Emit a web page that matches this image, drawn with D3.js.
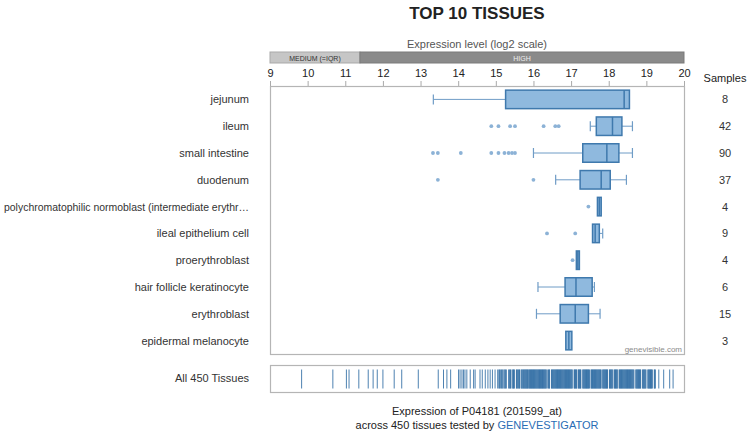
<!DOCTYPE html>
<html>
<head>
<meta charset="utf-8">
<script src="https://cdn.jsdelivr.net/npm/d3@7"></script>
<style>
  html, body { margin: 0; padding: 0; background: #fff; }
  svg { display: block; font-family: Helvetica, Arial, "Liberation Sans", sans-serif; }
</style>
</head>
<body>
<svg id="chart" width="749" height="435"></svg>
<script>
// ---------------- DATA ----------------
const tissues = ["jejunum", "ileum", "small intestine", "duodenum",
  "polychromatophilic normoblast (intermediate erythr\u2026",
  "ileal epithelium cell", "proerythroblast", "hair follicle keratinocyte",
  "erythroblast", "epidermal melanocyte"];
const samples = [8, 42, 90, 37, 4, 9, 4, 6, 15, 3];
const whiskerLow  = [13.34, 17.51, 16.00, 16.59, 17.70, 17.57, 17.14, 16.12, 16.08, 16.86];
const q1          = [15.26, 17.67, 17.31, 17.24, 17.70, 17.57, 17.14, 16.84, 16.71, 16.86];
const median      = [18.41, 18.10, 17.95, 17.80, 17.75, 17.64, 17.18, 17.13, 17.11, 16.94];
const q3          = [18.55, 18.35, 18.27, 18.04, 17.80, 17.75, 17.22, 17.56, 17.46, 17.02];
const whiskerHigh = [18.55, 18.63, 18.63, 18.47, 17.80, 17.84, 17.22, 17.62, 17.77, 17.02];
const outliers = [
  [],
  [14.88, 15.07, 15.38, 15.51, 16.27, 16.58, 16.67],
  [13.33, 13.46, 14.07, 14.88, 15.07, 15.23, 15.34, 15.43, 15.51],
  [13.46, 16.00],
  [17.46],
  [16.36, 17.11],
  [17.04],
  [],
  [],
  []
];
const tickValues = [9, 10, 11, 12, 13, 14, 15, 16, 17, 18, 19, 20];
const levelBands = [
  { name: "MEDIUM (=IQR)", from: 9, to: 11.39 },
  { name: "HIGH", from: 11.39, to: 20 }
];
const allTissues = [
  9.84, 10.67, 11.03, 11.10, 11.36, 11.61, 11.74, 11.85, 12.00, 12.30, 12.50, 12.94,
  13.47, 13.61, 13.70, 13.80, 14.01, 14.05, 14.10, 14.14, 14.18, 14.23, 14.32, 14.41,
  14.45, 14.58, 14.64, 14.72, 14.79, 14.85, 14.91, 14.98, 15.05,
  15.08, 15.10, 15.12, 15.15, 15.17, 15.19, 15.22, 15.24, 15.26, 15.28,
  15.34, 15.36, 15.38, 15.39,
  15.43, 15.45, 15.47, 15.48, 15.50,
  15.55, 15.56, 15.58, 15.60, 15.62, 15.63,
  15.67, 15.69, 15.70, 15.72, 15.74, 15.75, 15.77, 15.78,
  15.80, 15.81, 15.83, 15.84, 15.86, 15.88, 15.89, 15.91, 15.92, 15.94, 15.95, 15.97, 15.98,
  16.00, 16.01, 16.03, 16.04, 16.06, 16.07, 16.09, 16.10, 16.12, 16.13, 16.15, 16.16, 16.18, 16.19,
  16.21, 16.22, 16.24, 16.25, 16.27, 16.28, 16.30, 16.31, 16.33, 16.34,
  16.38, 16.40, 16.42, 16.43,
  16.48, 16.49, 16.51, 16.52, 16.54, 16.55, 16.57, 16.58, 16.60, 16.61, 16.63, 16.64, 16.66, 16.67, 16.69,
  16.70, 16.72, 16.73, 16.75, 16.76, 16.78, 16.79, 16.81, 16.82, 16.84, 16.85, 16.87, 16.88, 16.90,
  16.91, 16.93, 16.94, 16.96, 16.97, 16.99,
  17.00, 17.02, 17.03,
  17.08, 17.09, 17.11, 17.12, 17.14, 17.15,
  17.19, 17.20, 17.22, 17.23, 17.25, 17.26,
  17.31, 17.32, 17.34, 17.35, 17.37, 17.38, 17.40, 17.41, 17.43, 17.44, 17.46, 17.47, 17.49,
  17.53, 17.54, 17.56, 17.57, 17.59, 17.60, 17.62, 17.63, 17.65, 17.66, 17.68, 17.69, 17.71, 17.72,
  17.74, 17.75, 17.77, 17.78, 17.80,
  17.84, 17.85, 17.87, 17.88, 17.90, 17.91, 17.93, 17.94, 17.96, 17.97,
  18.02, 18.03, 18.05, 18.06, 18.08, 18.09, 18.11,
  18.15, 18.16, 18.18, 18.19, 18.21, 18.22, 18.24,
  18.28, 18.29, 18.31, 18.32, 18.34, 18.35, 18.37, 18.38, 18.40, 18.41, 18.43, 18.44, 18.46, 18.47,
  18.49, 18.50, 18.52, 18.53, 18.55, 18.56, 18.58, 18.59, 18.61, 18.62, 18.64, 18.65, 18.67,
  18.72, 18.73, 18.75, 18.76, 18.78, 18.79, 18.81, 18.82, 18.84, 18.85,
  18.90, 18.91, 18.93, 18.94, 18.96, 18.97, 18.99,
  19.04, 19.05, 19.07, 19.08, 19.10, 19.11, 19.13, 19.14, 19.16,
  19.21, 19.22, 19.24,
  19.33, 19.46, 19.62, 19.71
];

// ---------------- LAYOUT ----------------
const svg = d3.select("#chart");
const plotLeft = 270, plotRight = 684, plotTop = 86, plotBottom = 354;
const x = d3.scaleLinear().domain([9, 20]).range([plotLeft, plotRight]);
const y = d3.scaleBand().domain(tissues).range([plotTop, plotBottom]);
const rows = tissues.map((t, i) => ({
  t, i, n: samples[i], wl: whiskerLow[i], q1: q1[i], med: median[i],
  q3: q3[i], wh: whiskerHigh[i], out: outliers[i]
}));
const centerX = (plotLeft + plotRight) / 2;
const boxFill = "#8fb9de", boxStroke = "#3f79ad", whiskColor = "#6f9cc6", dotColor = "#8cb2d6";

// Title
svg.append("text").attr("x", centerX).attr("y", 19).attr("text-anchor", "middle")
  .attr("font-size", 17).attr("font-weight", "bold").attr("fill", "#222").text("TOP 10 TISSUES");

svg.append("text").attr("x", centerX).attr("y", 47.5).attr("text-anchor", "middle")
  .attr("font-size", 11).attr("fill", "#555").text("Expression level (log2 scale)");

// level bands
const lb = svg.append("g");
lb.selectAll("rect").data(levelBands).join("rect")
  .attr("x", d => x(d.from)).attr("y", 52)
  .attr("width", d => x(d.to) - x(d.from)).attr("height", 11)
  .attr("fill", (d, i) => i === 0 ? "#c6c6c6" : "#8a8a8a")
  .attr("stroke", (d, i) => i === 0 ? "#a9a9a9" : "#7a7a7a").attr("stroke-width", 1);
lb.selectAll("text").data(levelBands).join("text")
  .attr("x", d => (x(d.from) + x(d.to)) / 2).attr("y", 60.5)
  .attr("text-anchor", "middle").attr("font-size", 7)
  .attr("fill", (d, i) => i === 0 ? "#333" : "#eee").text(d => d.name);

// Axis
const axis = svg.append("g").attr("transform", `translate(0,${plotTop})`)
  .call(d3.axisTop(x).tickValues(tickValues).tickSize(5).tickPadding(4).tickFormat(d3.format("d")));
axis.select(".domain").remove();
axis.selectAll(".tick line").attr("stroke", "#aaa");
axis.selectAll(".tick text").attr("font-size", 11).attr("fill", "#222")
  .attr("font-family", "Helvetica, Arial, 'Liberation Sans', sans-serif");

// Plot frame
svg.append("rect").attr("x", plotLeft + 0.5).attr("y", plotTop + 0.5)
  .attr("width", plotRight - plotLeft).attr("height", plotBottom - plotTop)
  .attr("fill", "none").attr("stroke", "#b5b5b5").attr("stroke-width", 1.2);

svg.append("text").attr("x", plotRight - 2).attr("y", plotBottom - 2.5).attr("text-anchor", "end")
  .attr("font-size", 8).attr("fill", "#8a8a8a").text("genevisible.com");

// Samples column
svg.append("text").attr("x", 725).attr("y", 82).attr("text-anchor", "middle")
  .attr("font-size", 11).attr("fill", "#222").text("Samples");

const bw = y.bandwidth();
const boxH = bw * 0.69;
const capH = 10;

const g = svg.append("g");
const row = g.selectAll("g.row").data(rows).join("g").attr("class", "row")
  .attr("transform", d => `translate(0,${y(d.t) + bw / 2})`);

// labels (shrink any label that would not fit between the page edge and the plot)
const labelRight = 249, labelMaxW = 245;
row.append("text").attr("x", labelRight).attr("y", 4).attr("text-anchor", "end")
  .attr("font-size", 11).attr("fill", "#333").text(d => d.t)
  .each(function () {
    const w = this.getComputedTextLength();
    if (w > labelMaxW) {
      d3.select(this).attr("textLength", labelMaxW).attr("lengthAdjust", "spacingAndGlyphs");
    }
  });
row.append("text").attr("x", 725).attr("y", 4).attr("text-anchor", "middle")
  .attr("font-size", 11).attr("fill", "#333").text(d => d.n);

// whiskers
row.filter(d => d.wl < d.q1).each(function (d) {
  const s = d3.select(this);
  s.append("line").attr("x1", x(d.wl)).attr("x2", x(d.q1)).attr("y1", 0).attr("y2", 0)
    .attr("stroke", whiskColor).attr("stroke-width", 1);
  s.append("line").attr("x1", x(d.wl)).attr("x2", x(d.wl)).attr("y1", -capH / 2).attr("y2", capH / 2)
    .attr("stroke", whiskColor).attr("stroke-width", 1.2);
});
row.filter(d => d.wh > d.q3).each(function (d) {
  const s = d3.select(this);
  s.append("line").attr("x1", x(d.q3)).attr("x2", x(d.wh)).attr("y1", 0).attr("y2", 0)
    .attr("stroke", whiskColor).attr("stroke-width", 1);
  s.append("line").attr("x1", x(d.wh)).attr("x2", x(d.wh)).attr("y1", -capH / 2).attr("y2", capH / 2)
    .attr("stroke", whiskColor).attr("stroke-width", 1.2);
});

// boxes
row.append("rect").attr("x", d => x(d.q1)).attr("y", -boxH / 2)
  .attr("width", d => Math.max(2, x(d.q3) - x(d.q1))).attr("height", boxH)
  .attr("fill", boxFill).attr("stroke", boxStroke).attr("stroke-width", 1.5);
row.append("line").attr("x1", d => x(d.med)).attr("x2", d => x(d.med))
  .attr("y1", -boxH / 2).attr("y2", boxH / 2)
  .attr("stroke", boxStroke).attr("stroke-width", 1.5);

// outliers
row.selectAll("circle").data(d => d.out).join("circle")
  .attr("cx", v => x(v)).attr("cy", 0).attr("r", 1.9).attr("fill", dotColor);

// All tissues strip
const stripTop = 365.5, stripBottom = 392.5;
svg.append("rect").attr("x", plotLeft + 0.5).attr("y", stripTop)
  .attr("width", plotRight - plotLeft).attr("height", stripBottom - stripTop)
  .attr("fill", "none").attr("stroke", "#b5b5b5").attr("stroke-width", 1.2);
svg.append("text").attr("x", 249).attr("y", 382).attr("text-anchor", "end")
  .attr("font-size", 11).attr("fill", "#333").text("All 450 Tissues");
svg.append("g").selectAll("line").data(allTissues).join("line")
  .attr("x1", v => x(v)).attr("x2", v => x(v))
  .attr("y1", stripTop + 4).attr("y2", stripBottom - 4)
  .attr("stroke", "#2f6ca3").attr("stroke-opacity", 0.85).attr("stroke-width", 1);

// Footer
svg.append("text").attr("x", centerX).attr("y", 415).attr("text-anchor", "middle")
  .attr("font-size", 11).attr("fill", "#222").text("Expression of P04181 (201599_at)");
const f2 = svg.append("text").attr("x", centerX).attr("y", 429).attr("text-anchor", "middle")
  .attr("font-size", 11).attr("fill", "#222");
f2.append("tspan").text("across 450 tissues tested by ");
f2.append("tspan").attr("fill", "#2a6db5").text("GENEVESTIGATOR");
</script>
</body>
</html>
